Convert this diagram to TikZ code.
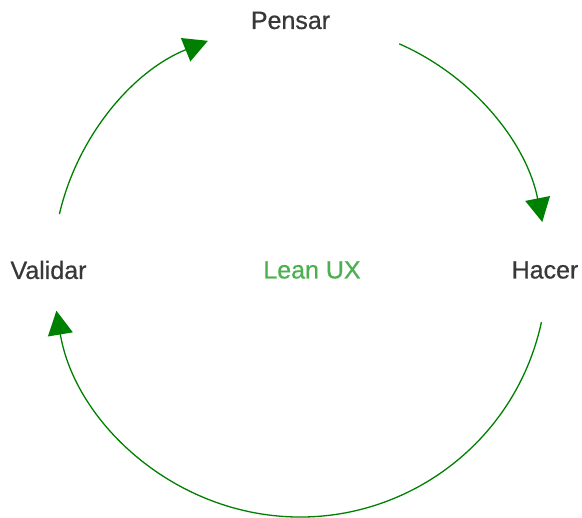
\documentclass[tikz,border=0pt]{standalone}
\usepackage{fontspec}
\setmainfont{Liberation Sans}
\newfontfamily\medio[FakeBold=0.6]{Liberation Sans}
\usetikzlibrary{arrows.meta}

\definecolor{texto}{HTML}{383838}
\definecolor{verdeflecha}{HTML}{008000}
\definecolor{verdelean}{HTML}{4CAF50}

\begin{document}
\begin{tikzpicture}[x=1pt,y=1pt,
    etapa/.style={text=texto, font=\medio\fontsize{25}{30}\selectfont, inner sep=0pt},
    flecha/.style={verdeflecha, line width=1.3pt, -{Triangle[length=24pt,width=25pt]}}]
    \useasboundingbox (0,0) rectangle (582,518);
    \coordinate (C) at (300,248); % centro del ciclo

    \node[etapa] (pensar) at (290.5,497.5) {Pensar};
    \node[etapa] (hacer) at (545,248) {Hacer};
    \node[etapa] (validar) at (48.5,248) {Validar};
    \node[etapa, text=verdelean] (lean) at (312,248) {Lean UX};

    \draw[flecha] (C) ++(66.3:247) arc[start angle=66.3, end angle=11.2, radius=247]; % pensar -> hacer
    \draw[flecha] (C) ++(-12.2:247) arc[start angle=-12.2, end angle=-170.5, radius=247]; % hacer -> validar
    \draw[flecha] (C) ++(166.9:247) arc[start angle=166.9, end angle=111.9, radius=247]; % validar -> pensar
\end{tikzpicture}
\end{document}
